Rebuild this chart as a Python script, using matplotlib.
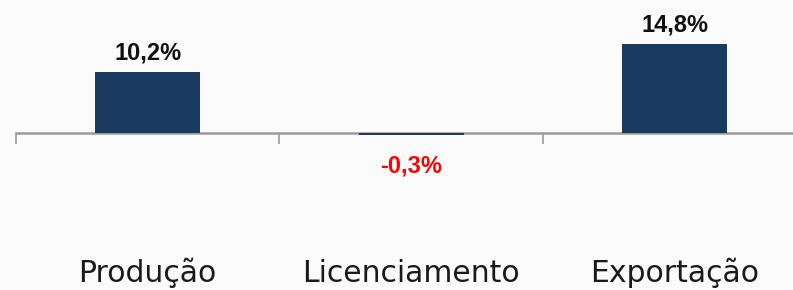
import matplotlib
matplotlib.use('Agg')
import matplotlib.pyplot as plt
import numpy as np

categorias = ['Produção', 'Licenciamento', 'Exportação']
variacao = [10.2, -0.3, 14.8]
rotulos = ['10,2%', '-0,3%', '14,8%']

W, H = 793, 290
fig = plt.figure(figsize=(W / 100, H / 100), dpi=100)
fig.patch.set_facecolor('#fbfbfb')

# eixo: zero em y=133px, 6px por ponto percentual
left = 16 / W
width = 3 * 263.5 / W
ymin, ymax = -20, 20
zero_px = H - 133
bottom = (zero_px - 6 * 20) / H
height = 6 * 40 / H
ax = fig.add_axes([left, bottom, width, height])
ax.set_facecolor('none')

x = np.arange(len(categorias))
ax.bar(x, variacao, width=0.4, color='#1b3a5f', zorder=3)

ax.set_xlim(-0.5, 2.5)
ax.set_ylim(ymin, ymax)
for s in ['top', 'right', 'left']:
    ax.spines[s].set_visible(False)
ax.spines['bottom'].set_position(('data', 0))
ax.spines['bottom'].set_color('#9a9a9a')
ax.spines['bottom'].set_linewidth(1.8)
ax.set_yticks([])

ax.set_xticks([-0.5, 0.5, 1.5, 2.5])
ax.set_xticklabels([])
ax.tick_params(axis='x', which='major', length=8, width=1.2, color='#9a9a9a', direction='out')

# nomes das categorias, mesma linha de base
for xi, c in zip(x, categorias):
    ax.annotate(c, (xi, 0), xytext=(0, -107.5), textcoords='offset points',
                ha='center', va='baseline', fontsize=21.5, color='#1a1a1a',
                annotation_clip=False)

for xi, v, r in zip(x, variacao, rotulos):
    if v >= 0:
        ax.annotate(r, (xi, v), xytext=(0, 9), textcoords='offset points',
                    ha='center', va='baseline', fontsize=17, fontweight='bold',
                    color='#111111', family='Liberation Sans')
    else:
        ax.annotate(r, (xi, v), xytext=(0, -27), textcoords='offset points',
                    ha='center', va='baseline', fontsize=17, fontweight='bold',
                    color='#ff0000', family='Liberation Sans')

fig.savefig('out.png', dpi=100, facecolor=fig.get_facecolor())
